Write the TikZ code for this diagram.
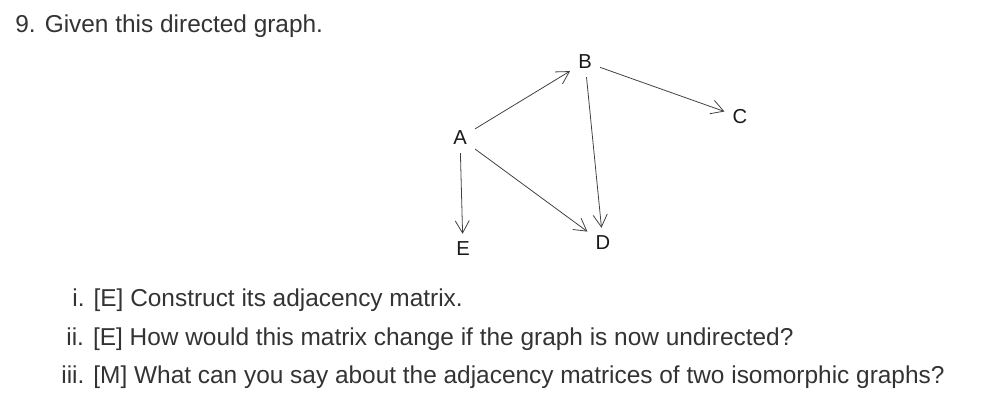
\documentclass[tikz,border=0pt]{standalone}
\usepackage{fontspec}
\setmainfont{Liberation Sans}
\usetikzlibrary{arrows.meta}

\begin{document}
\begin{tikzpicture}[x=0.02cm, y=-0.02cm,
    txt/.style={anchor=base west, inner sep=0pt, text=black!80,
      font=\fontsize{13.9pt}{16pt}\selectfont},
    vert/.style={inner sep=4.5pt, text=black!90,
      font=\fontsize{11.5pt}{13pt}\selectfont},
    edge/.style={draw=black!75, line width=0.45pt,
      -{Straight Barb[length=7pt, width=8pt]}}]
      \useasboundingbox (0, 0) rectangle (1000, 403);

      % question
      \node[txt] (title) at (15, 32) {9. Given this directed graph.};

      % graph
      \node[vert] (A) at (460, 138) {A};
      \node[vert] (B) at (585, 62) {B};
      \node[vert] (C) at (740, 117) {C};
      \node[vert] (D) at (603, 243) {D};
      \node[vert] (E) at (463, 249) {E};

      \draw[edge] (A) -- (B);
      \draw[edge] (B) -- (C);
      \draw[edge] (B) -- (D);
      \draw[edge] (A) -- (D);
      \draw[edge] (A) -- (E);

      % sub-questions
      \node[txt] (q1) at (72, 306) {i. [E] Construct its adjacency matrix.};
      \node[txt] (q2) at (66, 345) {ii. [E] How would this matrix change if the graph is now undirected?};
      \node[txt] (q3) at (61, 383) {iii. [M] What can you say about the adjacency matrices of two isomorphic graphs?};
  \end{tikzpicture}
\end{document}
